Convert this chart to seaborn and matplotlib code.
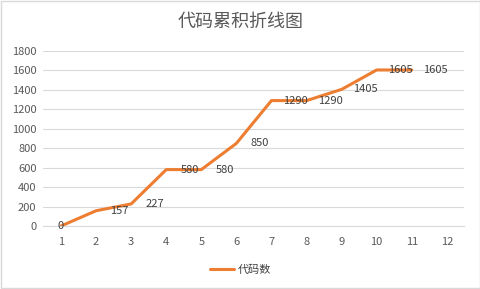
import matplotlib
matplotlib.use("Agg")
import matplotlib.pyplot as plt
import seaborn as sns
import pandas as pd
from matplotlib.patches import Rectangle

categories = [1, 2, 3, 4, 5, 6, 7, 8, 9, 10, 11, 12]
days = [1, 2, 3, 4, 5, 6, 7, 8, 9, 10, 11]
codes = [0, 157, 227, 580, 580, 850, 1290, 1290, 1405, 1605, 1605]
series_name = "代码数"
title = "代码累积折线图"

sns.set_theme(style="white")
plt.rcParams['font.family'] = ['Noto Sans CJK SC', 'DejaVu Sans']

fig = plt.figure(figsize=(4.81, 2.89), dpi=100)
ax = fig.add_axes([0.0904, 0.218, 0.875, 0.6055])

df = pd.DataFrame({"day": days, series_name: codes})
sns.lineplot(data=df, x="day", y=series_name, ax=ax, color="#ED7D31",
             linewidth=2.2, label=series_name, legend=False)

ax.set_xlim(0.5, 12.5)
ax.set_ylim(0, 1800)
ax.set_yticks(range(0, 1801, 200))
ax.set_xticks(categories)
ax.set_xticklabels([str(c) for c in categories])
ax.yaxis.grid(True, color="#D9D9D9", linewidth=0.8)
ax.set_axisbelow(True)
for s in ["top", "right", "left"]:
    ax.spines[s].set_visible(False)
ax.spines["bottom"].set_color("#D9D9D9")
ax.spines["bottom"].set_linewidth(0.8)
ax.tick_params(axis="x", length=0, labelsize=8, colors="#595959", pad=8)
ax.tick_params(axis="y", length=0, labelsize=8, colors="#595959", pad=5)
ax.set_xlabel("")
ax.set_ylabel("")

for i, (d, v) in enumerate(zip(days, codes)):
    dx = 0 if i == 0 else 17
    ax.annotate(str(v), (d, v), xytext=(dx, 0), textcoords="offset points",
                ha="center", va="center", fontsize=8, color="#404040")

fig.text(0.5, 0.925, title, ha="center", va="center", fontsize=13, color="#595959")

h, l = ax.get_legend_handles_labels()
fig.legend(h, l, loc="center", bbox_to_anchor=(0.5, 0.065), frameon=False,
           fontsize=8, labelcolor="#404040", handlelength=2.2, handletextpad=0.3)

fig.patches.append(Rectangle((0.002, 0.003), 0.995, 0.993, transform=fig.transFigure,
                             fill=False, edgecolor="#D9D9D9", linewidth=1))

fig.savefig("out.png", dpi=100)
